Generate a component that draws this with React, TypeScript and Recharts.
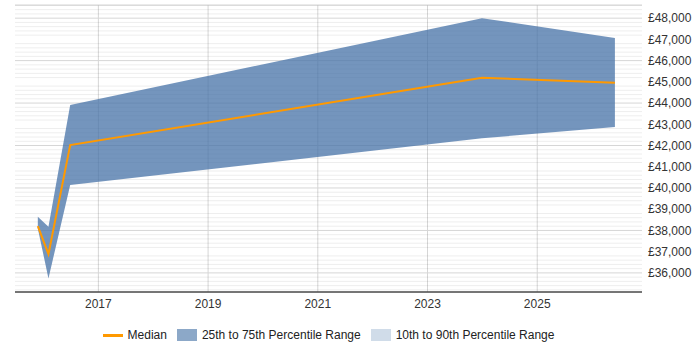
import { ComposedChart, Area, Line, XAxis, YAxis, CartesianGrid, Legend, ReferenceLine } from 'recharts';

// period positions as decimal years
const periods = [2015.896, 2016.09, 2016.486, 2023.993, 2026.416];
const median = [38200, 36880, 42020, 45190, 44960];
const p25 = [38090, 35740, 40140, 42340, 42870];
const p75 = [38640, 38170, 43910, 48000, 47060];

const yearTicks = [2017, 2019, 2021, 2023, 2025];
const salaryTicks = [36000, 37000, 38000, 39000, 40000, 41000, 42000, 43000, 44000, 45000, 46000, 47000, 48000];

const Y_MIN = 35100;
const Y_MAX = 48620;

const minorLines: number[] = [];
for (let v = 35200; v <= 48600; v += 200) {
  if (v % 1000 !== 0) minorLines.push(v);
}

const data = periods.map((t, i) => ({
  t,
  median: median[i],
  range: [p25[i], p75[i]],
}));

const BAND = '#4572a7';
const MEDIAN = '#ff9900';
const FONT = '"Liberation Sans", Arial, sans-serif';

const legendItems = [
  { label: 'Median', kind: 'line', color: MEDIAN },
  { label: '25th to 75th Percentile Range', kind: 'box', color: 'rgba(69,114,167,0.62)' },
  { label: '10th to 90th Percentile Range', kind: 'box', color: 'rgba(69,114,167,0.25)' },
];

function SalaryLegend() {
  return (
    <div style={{ display: 'flex', justifyContent: 'center', alignItems: 'center', height: 30, fontFamily: FONT, fontSize: 12, color: '#222' }}>
      {legendItems.map((it, i) => (
        <div key={it.label} style={{ display: 'flex', alignItems: 'center', marginLeft: i === 0 ? 0 : 10 }}>
          {it.kind === 'line' ? (
            <span style={{ display: 'inline-block', width: 20, height: 3, background: it.color, marginRight: 5 }} />
          ) : (
            <span style={{ display: 'inline-block', width: 20, height: 12, background: it.color, marginRight: 5 }} />
          )}
          <span>{it.label}</span>
        </div>
      ))}
    </div>
  );
}

export default function App() {
  return (
    <div style={{ position: 'absolute', left: 0, top: 0, width: 700, height: 350, background: '#fff' }}>
      <ComposedChart width={700} height={350} data={data} margin={{ top: 5, right: 0, left: 15, bottom: 0 }}>
        <CartesianGrid verticalValues={yearTicks} stroke="#d6d6d6" />
        {/* faint minor lines every £200, kept below the band */}
        {minorLines.map((v) => (
          <ReferenceLine
            key={v}
            y={v}
            stroke="#000"
            strokeOpacity={0.07}
            strokeWidth={1}
            {...({ zIndex: -50 } as any)}
          />
        ))}
        <XAxis
          dataKey="t"
          type="number"
          domain={[2015.48, 2026.91]}
          ticks={yearTicks}
          allowDataOverflow
          height={28}
          tickLine={false}
          tickSize={0}
          tickMargin={7}
          axisLine={{ stroke: '#000' }}
          tick={{ fill: '#333', fontSize: 12, fontFamily: FONT }}
        />
        <YAxis
          orientation="right"
          type="number"
          domain={[Y_MIN, Y_MAX]}
          ticks={salaryTicks}
          allowDataOverflow
          width={58}
          axisLine={false}
          tickLine={false}
          tickSize={0}
          tickMargin={6}
          tick={{ fill: '#333', fontSize: 12, fontFamily: FONT }}
          tickFormatter={(v: number) => `£${v.toLocaleString('en-GB')}`}
        />
        <Legend
          verticalAlign="bottom"
          width={627}
          wrapperStyle={{ left: 15, width: 627, height: 30 }}
          content={() => <SalaryLegend />}
        />
        <Area
          type="linear"
          dataKey="range"
          stroke="none"
          fill={BAND}
          fillOpacity={0.75}
          isAnimationActive={false}
        />
        <Line
          type="linear"
          dataKey="median"
          stroke={MEDIAN}
          strokeWidth={2}
          dot={false}
          isAnimationActive={false}
        />
      </ComposedChart>
    </div>
  );
}
